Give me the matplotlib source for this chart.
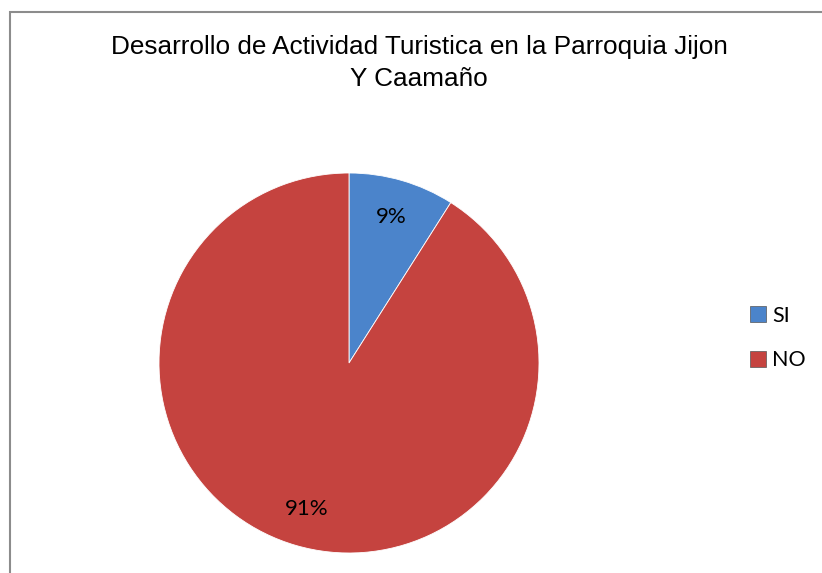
import matplotlib.pyplot as plt
import matplotlib.patches as mpatches

# datos
categorias = ['SI', 'NO']
porcentajes = [9, 91]
colores = ['#4b84cb', '#c5433f']
titulo = 'Desarrollo de Actividad Turistica en la Parroquia Jijon\nY Caamaño'

W, H = 822, 573
fig = plt.figure(figsize=(W / 100, H / 100), dpi=100)

# marco del grafico (solo se ven borde izquierdo y superior)
marco = mpatches.Rectangle((9.5 / W, -0.2), 2.0, (H - 11.5) / H + 0.2,
                           transform=fig.transFigure, fill=False,
                           edgecolor='#8c8c8c', linewidth=1.5)
fig.patches.append(marco)

fig.text(419 / W, 1 - 63 / H, titulo, ha='center', va='center',
         fontsize=18.8, family='Liberation Sans', linespacing=1.4)

# pastel: centro (349, 363), radio 190 px
cx, cy, r = 349, 363, 190
ax = fig.add_axes([(cx - r) / W, (H - cy - r) / H, 2 * r / W, 2 * r / H])
wedges, textos, autotextos = ax.pie(
    porcentajes, colors=colores, startangle=90, counterclock=False,
    autopct='%d%%', pctdistance=0.8, radius=1,
    wedgeprops=dict(edgecolor='#ffffff', linewidth=0.6),
    textprops=dict(fontsize=16, family='Lato', color='black'))
ax.set_xlim(-1, 1)
ax.set_ylim(-1, 1)
ax.axis('off')

# leyenda
handles = [mpatches.Patch(facecolor=c, edgecolor='#555555', linewidth=0.5) for c in colores]
fig.legend(handles, categorias, loc='center left',
           bbox_to_anchor=(731 / W, 1 - 338 / H), frameon=False,
           prop=dict(family='Lato', size=15.5), handlelength=0.72,
           handleheight=0.72, handletextpad=0.3, labelspacing=1.15)

fig.savefig('out.png', dpi=100)
